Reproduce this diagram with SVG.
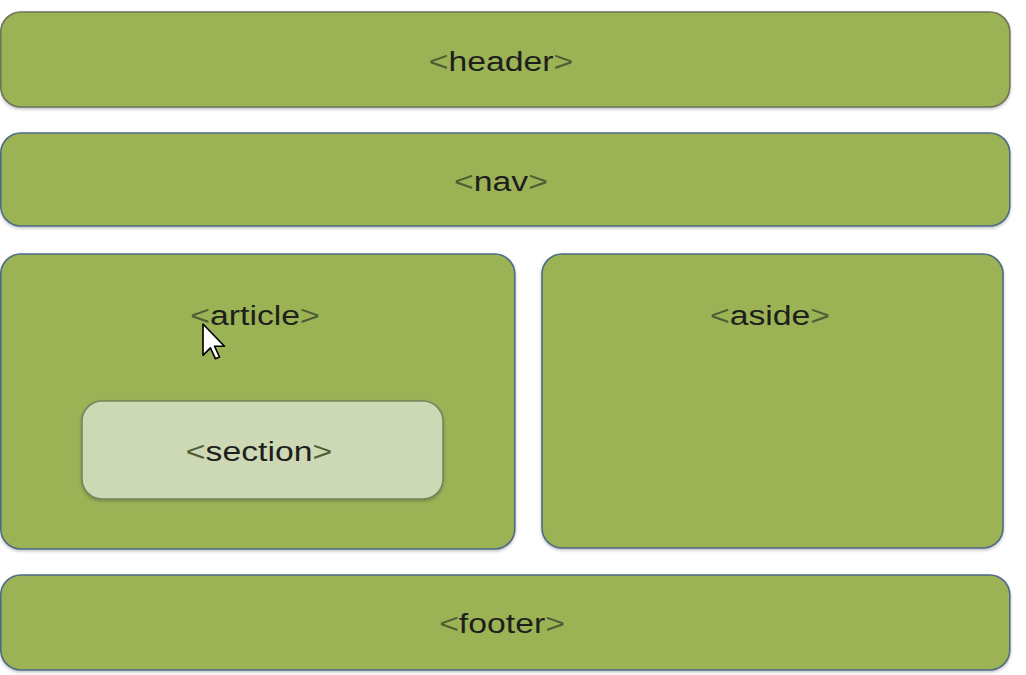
<svg xmlns="http://www.w3.org/2000/svg" width="1026" height="675" viewBox="0 0 1026 675">
<defs>
<filter id="sh" x="-5%" y="-10%" width="110%" height="125%">
<feDropShadow dx="0" dy="1.5" stdDeviation="1.5" flood-color="#000" flood-opacity="0.25"/>
</filter>
</defs>
<style>
.box{fill:#9bb355;stroke-width:1.6;filter:url(#sh)}
.s1{stroke:#6f7358}
.s2{stroke:#4f6a86}
.sec{fill:#cdd8b4;stroke:#76845e;stroke-width:1.6;filter:url(#sh)}
.lbl{font-family:"Liberation Sans",Arial,sans-serif;font-size:27px;fill:#1e1f1c;text-anchor:middle}
.br{fill:#4f5e34}
</style>
<rect width="1026" height="675" fill="#ffffff"/>
<g id="header">
<rect class="box s1" x="0.8" y="12" width="1009" height="95" rx="20"/>
<text class="lbl" transform="translate(501 71) scale(1.25 1)"><tspan class="br">&lt;</tspan>header<tspan class="br">&gt;</tspan></text>
</g>
<g id="nav">
<rect class="box s2" x="0.8" y="133" width="1009" height="93" rx="20"/>
<text class="lbl" transform="translate(501 191) scale(1.25 1)"><tspan class="br">&lt;</tspan>nav<tspan class="br">&gt;</tspan></text>
</g>
<g id="article">
<rect class="box s2" x="0.8" y="254" width="514" height="295" rx="20"/>
<text class="lbl" transform="translate(255 325) scale(1.25 1)"><tspan class="br">&lt;</tspan>article<tspan class="br">&gt;</tspan></text>
</g>
<g id="section">
<rect class="sec" x="82" y="401" width="361" height="98" rx="20"/>
<text class="lbl" transform="translate(259 461) scale(1.25 1)"><tspan class="br">&lt;</tspan>section<tspan class="br">&gt;</tspan></text>
</g>
<g id="aside">
<rect class="box s2" x="542" y="254" width="461" height="294" rx="20"/>
<text class="lbl" transform="translate(770 325) scale(1.25 1)"><tspan class="br">&lt;</tspan>aside<tspan class="br">&gt;</tspan></text>
</g>
<g id="footer">
<rect class="box s2" x="0.8" y="575" width="1009" height="95" rx="20"/>
<text class="lbl" transform="translate(502 633) scale(1.25 1)"><tspan class="br">&lt;</tspan>footer<tspan class="br">&gt;</tspan></text>
</g>
<g id="connectors"></g>
<g id="cursor" transform="translate(203 324) scale(1.65)">
<polygon points="0,0 0,19 4.5,14.5 7.5,21 10,20 7,13.5 13,13.5" fill="#ffffff" stroke="#000000" stroke-width="1" stroke-linejoin="round"/>
</g>
</svg>
